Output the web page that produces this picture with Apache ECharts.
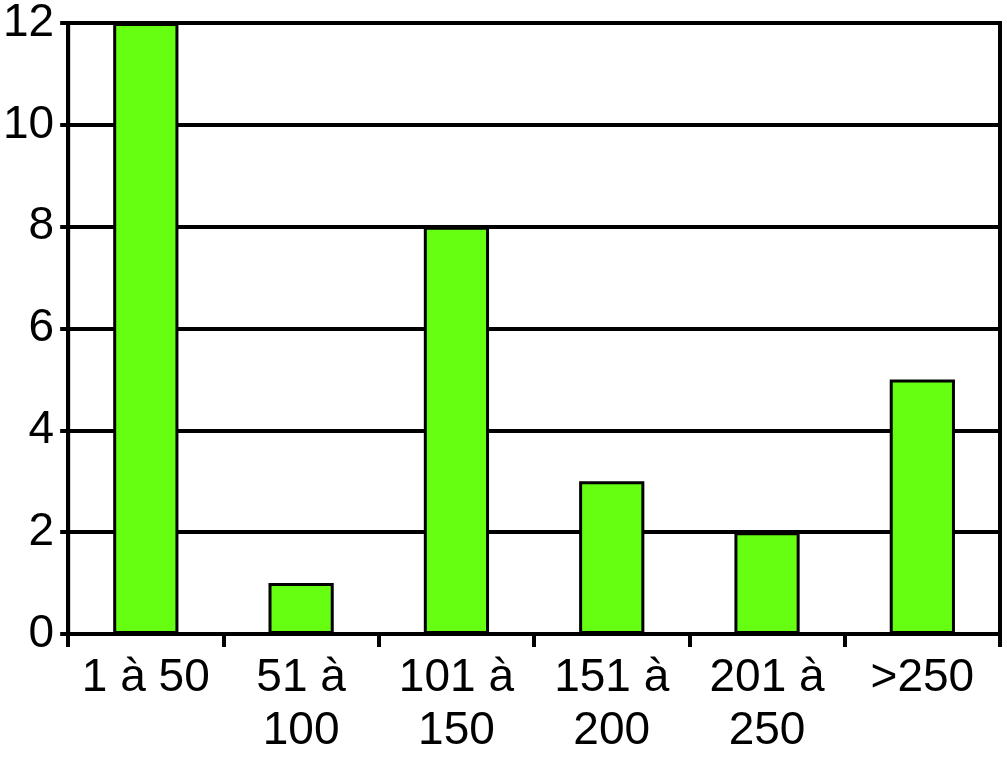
<!DOCTYPE html>
<html>
<head>
<meta charset="utf-8">
<script src="https://cdn.jsdelivr.net/npm/echarts@6/dist/echarts.min.js"></script>
<style>
  html, body { margin: 0; padding: 0; background: #fff; }
  #chart { width: 1007px; height: 764px; }
</style>
</head>
<body>
<div id="chart"></div>
<script>
  // catégories et valeurs
  var categories = ['1 à 50', '51 à\n100', '101 à\n150', '151 à\n200', '201 à\n250', '>250'];
  var values = [12, 1, 8, 3, 2, 5];
  var yTicks = [0, 2, 4, 6, 8, 10, 12];

  var chart = echarts.init(document.getElementById('chart'));
  var font = 'Liberation Sans, Arial, Helvetica, sans-serif';

  chart.setOption({
    backgroundColor: '#fff',
    animation: false,
    grid: {
      left: 68, right: 7, top: 22, bottom: 130,
      show: true,
      borderColor: '#000',
      borderWidth: 4
    },
    xAxis: {
      type: 'category',
      data: categories,
      axisLine: { lineStyle: { color: '#000', width: 4 } },
      axisTick: { show: true, interval: 0, length: 13, lineStyle: { color: '#000', width: 4 } },
      axisLabel: {
        interval: 0,
        color: '#000',
        fontSize: 46,
        fontFamily: font,
        lineHeight: 53,
        margin: 18
      }
    },
    yAxis: {
      type: 'value',
      min: yTicks[0],
      max: yTicks[yTicks.length - 1],
      interval: 2,
      axisLine: { show: true, lineStyle: { color: '#000', width: 4 } },
      axisTick: { show: true, length: 8, lineStyle: { color: '#000', width: 4 } },
      splitLine: { lineStyle: { color: '#000', width: 4 } },
      axisLabel: {
        color: '#000',
        fontSize: 46,
        fontFamily: font,
        margin: 14
      }
    },
    series: [{
      type: 'bar',
      data: values,
      barWidth: '42%',
      itemStyle: {
        color: '#66ff11',
        borderColor: '#000',
        borderWidth: 3
      }
    }]
  });
</script>
</body>
</html>
